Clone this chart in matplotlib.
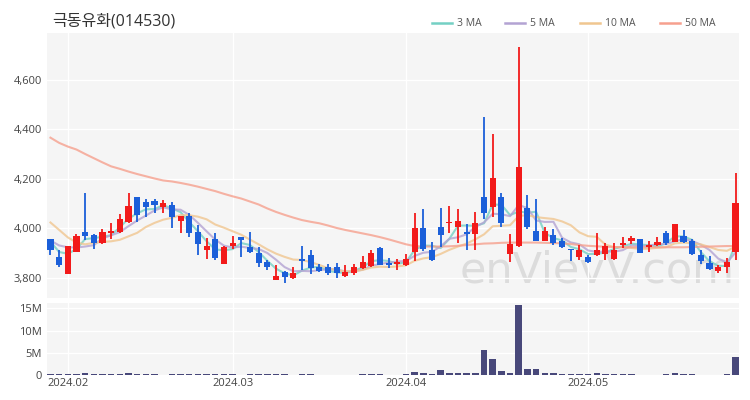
import numpy as np
import pandas as pd
import matplotlib
matplotlib.use("Agg")
import matplotlib.pyplot as plt
from matplotlib.lines import Line2D
from matplotlib.ticker import FuncFormatter

plt.rcParams["font.family"] = ["Open Sans", "Noto Sans CJK KR", "DejaVu Sans"]

title = "극동유화(014530)"

# KRX holidays inside the window
holidays = ["2024-02-09", "2024-02-12", "2024-03-01", "2024-04-10",
            "2024-05-01", "2024-05-06", "2024-05-15"]
dates = pd.bdate_range("2024-01-30", "2024-05-29", freq="C", holidays=holidays)

opens = [3955, 3885, 3815, 3905, 3986, 3973, 3939, 3982, 3986, 4027,
         4125, 4108, 4112, 4087, 4094, 4031, 4050, 3984, 3912, 3958,
         3856, 3928, 3963, 3926, 3899, 3862, 3791, 3825, 3798, 3875,
         3890, 3845, 3842, 3843, 3805, 3818, 3838, 3848, 3922, 3860,
         3855, 3852, 3905, 4000, 3910, 4004, 4020, 4006, 3986, 3977,
         4128, 4087, 4125, 3895, 3928, 4081, 3990, 3950, 3973, 3950,
         3915, 3883, 3885, 3892, 3896, 3875, 3933, 3950, 3955, 3926,
         3933, 3980, 3946, 3970, 3950, 3892, 3861, 3829, 3842, 3905]
highs = [3958, 3912, 3930, 3978, 4141, 3978, 3995, 4020, 4058, 4141,
         4128, 4117, 4120, 4113, 4105, 4050, 4060, 4015, 3960, 3980,
         3930, 3967, 3966, 3983, 3925, 3873, 3852, 3827, 3842, 3928,
         3910, 3854, 3856, 3858, 3852, 3856, 3886, 3914, 3924, 3878,
         3876, 3896, 4063, 4077, 3945, 4081, 4088, 4077, 4017, 4067,
         4450, 4381, 4143, 3977, 4731, 4135, 4117, 4006, 3996, 3960,
         3916, 3932, 3892, 3982, 3939, 3942, 3966, 3968, 3957, 3950,
         3966, 3988, 4018, 3993, 3955, 3910, 3888, 3852, 3878, 4225]
lows = [3890, 3842, 3815, 3903, 3953, 3915, 3935, 3957, 3982, 4022,
        4027, 4047, 4063, 4063, 4000, 3980, 3966, 3893, 3875, 3870,
        3855, 3917, 3885, 3900, 3842, 3831, 3789, 3780, 3794, 3832,
        3815, 3825, 3811, 3800, 3802, 3811, 3834, 3845, 3850, 3838,
        3832, 3848, 3869, 3908, 3869, 3926, 3982, 3940, 3910, 3910,
        4036, 4045, 4004, 3865, 3923, 3995, 3950, 3948, 3932, 3919,
        3869, 3872, 3859, 3886, 3872, 3872, 3919, 3935, 3899, 3903,
        3928, 3932, 3944, 3940, 3892, 3856, 3830, 3821, 3818, 3872]
closes = [3912, 3850, 3928, 3970, 3970, 3940, 3986, 3990, 4036, 4090,
          4054, 4085, 4094, 4100, 4047, 4048, 3980, 3935, 3928, 3879,
          3926, 3942, 3952, 3903, 3858, 3845, 3807, 3802, 3818, 3866,
          3838, 3829, 3818, 3818, 3822, 3842, 3862, 3898, 3852, 3853,
          3862, 3875, 4000, 3915, 3872, 3973, 4027, 4031, 3975, 4022,
          4063, 4202, 4020, 3937, 4246, 4004, 3950, 3990, 3940, 3923,
          3910, 3912, 3865, 3912, 3928, 3910, 3942, 3960, 3901, 3933,
          3946, 3939, 4016, 3946, 3896, 3869, 3834, 3842, 3865, 4101]
# volume in millions of shares
volumes = [0.25, 0.2, 0.3, 0.25, 0.35, 0.15, 0.2, 0.15, 0.3, 0.45,
           0.3, 0.2, 0.15, 0.1, 0.2, 0.15, 0.2, 0.2, 0.15, 0.2,
           0.15, 0.2, 0.1, 0.2, 0.15, 0.2, 0.15, 0.2, 0.1, 0.15,
           0.2, 0.1, 0.1, 0.1, 0.1, 0.1, 0.15, 0.2, 0.15, 0.1,
           0.1, 0.15, 0.6, 0.55, 0.15, 1.1, 0.5, 0.4, 0.4, 0.45,
           5.6, 3.5, 0.9, 0.5, 15.7, 1.4, 1.35, 0.35, 0.5, 0.2,
           0.2, 0.2, 0.15, 0.35, 0.2, 0.15, 0.15, 0.15, 0.1, 0.1,
           0.1, 0.15, 0.45, 0.2, 0.15, 0.1, 0.1, 0.1, 0.15, 4.0]
# closes of the nine sessions before the window (for the short MAs)
prev_closes = [4150, 4230, 4180, 4040, 3880, 3950, 3965, 3975, 3950]
# 50-day MA as drawn (needs history outside the window)
ma50 = [4366, 4345, 4330, 4318, 4300, 4283, 4266, 4250, 4240, 4229,
        4219, 4210, 4201, 4193, 4189, 4183, 4176, 4168, 4159, 4150,
        4139, 4129, 4120, 4108, 4096, 4080, 4066, 4054, 4043, 4033,
        4026, 4020, 4011, 4001, 3993, 3986, 3979, 3972, 3964, 3955,
        3945, 3935, 3928, 3926, 3926, 3926, 3927, 3929, 3932, 3935,
        3938, 3939, 3941, 3942, 3942, 3942, 3942, 3941, 3940, 3939,
        3936, 3932, 3929, 3927, 3925, 3924, 3923, 3923, 3923, 3923,
        3923, 3923, 3923, 3923, 3924, 3925, 3926, 3927, 3928, 3928]

ma_colors = {"3 MA": "#74d0c4", "5 MA": "#b3a3d3", "10 MA": "#f0c690", "50 MA": "#f6a08e"}
up_color = "#f21a1a"
down_color = "#1b5fd9"
vol_color = "#48487a"
bg = "#f5f5f5"

n = len(closes)
x = np.arange(n)
o = np.array(opens, dtype=float)
h = np.array(highs, dtype=float)
l = np.array(lows, dtype=float)
c = np.array(closes, dtype=float)

all_close = pd.Series(prev_closes + closes, dtype=float)
ma = {}
for w in (3, 5, 10):
    ma[f"{w} MA"] = all_close.rolling(w).mean().values[-n:]
ma["50 MA"] = np.array(ma50, dtype=float)

fig = plt.figure(figsize=(7.5, 4), dpi=100)
ax = fig.add_axes([47 / 750, 1 - 298 / 400, 692 / 750, 265 / 400])
axv = fig.add_axes([47 / 750, 1 - 375 / 400, 692 / 750, 72 / 400], sharex=ax)

for a in (ax, axv):
    a.set_facecolor(bg)
    for s in a.spines.values():
        s.set_visible(False)
    a.grid(True, color="white", linewidth=1)
    a.set_axisbelow(True)
    a.tick_params(length=0, labelsize=8, labelcolor="#444444")

# watermark
ax.text(0.795, 0.105, "enVievV.com", transform=ax.transAxes, ha="center", va="center",
        fontsize=31, color="#d6d6d6", alpha=0.8, zorder=0, family="DejaVu Sans")

for name, col in ma_colors.items():
    ax.plot(x, ma[name], color=col, linewidth=1.5, alpha=0.8, zorder=2)

up = c >= o
colors = np.where(up, up_color, down_color)
ax.vlines(x, l, h, colors=colors, linewidth=1.3, zorder=3)
body_low = np.minimum(o, c)
body_h = np.maximum(np.abs(c - o), 4)
ax.bar(x, body_h, bottom=body_low, width=0.7, color=colors, zorder=4)

ax.set_xlim(-0.4, n - 0.6)
ax.set_ylim(3718, 4789)
ax.set_yticks([3800, 4000, 4200, 4400, 4600])
ax.yaxis.set_major_formatter(FuncFormatter(lambda v, p: f"{v:,.0f}"))
ax.tick_params(axis="x", labelbottom=False)

axv.bar(x, volumes, width=0.75, color=vol_color, zorder=3)
axv.set_ylim(0, 16.2)
axv.set_yticks([0, 5, 10, 15])
axv.yaxis.set_major_formatter(FuncFormatter(lambda v, p: "0" if v == 0 else f"{v:.0f}M"))

month_start = [i for i in range(1, n) if dates[i].month != dates[i - 1].month]
axv.set_xticks(month_start)
axv.set_xticklabels([dates[i].strftime("%Y.%m") for i in month_start])
axv.tick_params(axis="x", pad=2)

fig.text(52 / 750, 1 - 22 / 400, title, fontsize=11.5, color="#333333", va="center")

# legend on top right
lx = [432, 505, 580, 660]
for (name, col), x0 in zip(ma_colors.items(), lx):
    fig.add_artist(Line2D([x0 / 750, (x0 + 20) / 750], [1 - 23 / 400] * 2,
                          color=col, linewidth=1.8, transform=fig.transFigure))
    fig.text((x0 + 25) / 750, 1 - 23 / 400, name, fontsize=7.5, color="#555555", va="center")

fig.savefig("out.png", dpi=100, facecolor="white")
